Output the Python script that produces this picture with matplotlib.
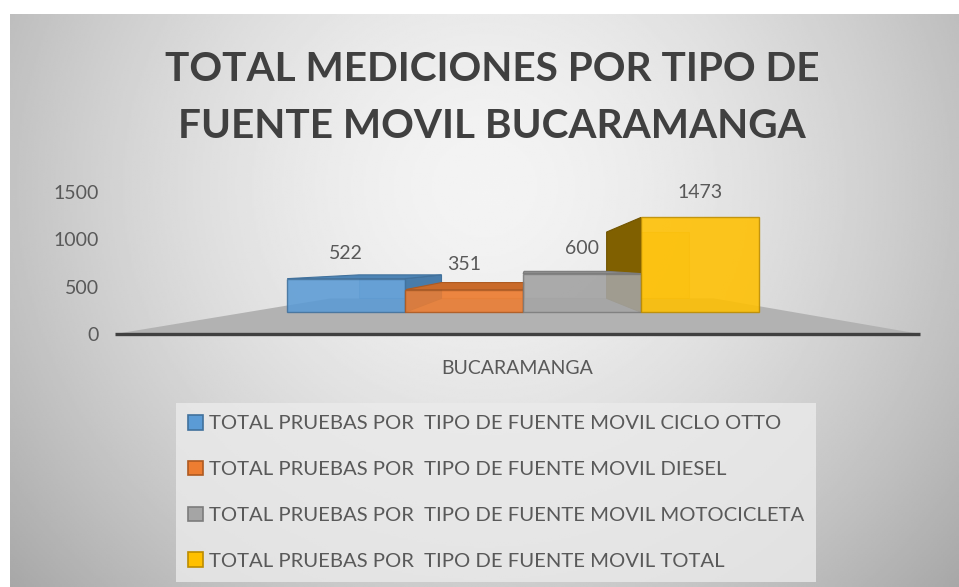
import numpy as np
import matplotlib.pyplot as plt
from matplotlib.patches import Polygon, Patch
from matplotlib.colors import to_rgb

plt.rcParams['font.family'] = ['Lato', 'DejaVu Sans']

title = "TOTAL MEDICIONES POR TIPO DE\nFUENTE MOVIL BUCARAMANGA"
category = "BUCARAMANGA"
series = ["TOTAL PRUEBAS POR  TIPO DE FUENTE MOVIL CICLO OTTO",
          "TOTAL PRUEBAS POR  TIPO DE FUENTE MOVIL DIESEL",
          "TOTAL PRUEBAS POR  TIPO DE FUENTE MOVIL MOTOCICLETA",
          "TOTAL PRUEBAS POR  TIPO DE FUENTE MOVIL TOTAL"]
values = [522, 351, 600, 1473]
colors = ['#5B9BD5', '#ED7D31', '#A5A5A5', '#FFC000']
edges = ['#41719C', '#AE5A21', '#7C7C7C', '#BC8C00']
yticks = [0, 500, 1000, 1500]

# fake excel-like 3d: one point perspective
vx, vy = 0.511, 718      # vanishing point (category units, value units)
s_front, s_back = 0.68, 0.476
group_w = 0.862


def proj(x, y, s):
    return (vx + (x - vx) * s, vy + (y - vy) * s)


def shade(c, f):
    r, g, b = to_rgb(c)
    return (r * f, g * f, b * f)


fig = plt.figure(figsize=(9.59, 5.87), dpi=100)
fig.patch.set_facecolor('white')

# radial gray background of the chart area
bg = fig.add_axes([10 / 959, 0, 949 / 959, 573 / 587], zorder=0)
yy, xx = np.mgrid[0:1:300j, 0:1:500j]
d = np.sqrt(((xx - 0.5) / 0.5) ** 2 + ((yy - 0.3) / 0.8) ** 2)
grad = 0.955 - 0.19 * d ** 1.6
bg.imshow(grad, cmap='gray', vmin=0, vmax=1, extent=(0, 1, 0, 1),
          aspect='auto', origin='upper')
bg.axis('off')

ax = fig.add_axes([115 / 959, (587 - 334) / 587, 805 / 959, 142 / 587], zorder=1)
ax.set_facecolor('none')
ax.set_xlim(0, 1)
ax.set_ylim(0, 1500)

# floor
floor = [proj(0, 0, 1), proj(1, 0, 1), proj(1, 0, s_back), proj(0, 0, s_back)]
ax.add_patch(Polygon(floor, closed=True, fc='#b2b2b2', ec='none', clip_on=False, zorder=1))
ax.plot([0, 1], [0, 0], color='#404040', lw=2.4, clip_on=False,
        solid_capstyle='butt', zorder=2)

w = group_w / len(values)
for i, (v, c, e) in enumerate(zip(values, colors, edges)):
    x0 = 0.505 - group_w / 2 + i * w
    x1 = x0 + w

    def box(s):
        return [proj(x0, 0, s), proj(x1, 0, s), proj(x1, v, s), proj(x0, v, s)]

    ax.add_patch(Polygon(box(s_back), fc=shade(c, 0.9), ec=e, lw=0.8, alpha=0.35,
                         clip_on=False, zorder=3))
    if x0 > vx:
        side = [proj(x0, 0, s_front), proj(x0, 0, s_back), proj(x0, v, s_back), proj(x0, v, s_front)]
        ax.add_patch(Polygon(side, fc=shade(c, 0.5), ec=shade(e, 0.6), lw=0.8,
                             clip_on=False, zorder=4))
    if x1 < vx:
        side = [proj(x1, 0, s_front), proj(x1, 0, s_back), proj(x1, v, s_back), proj(x1, v, s_front)]
        ax.add_patch(Polygon(side, fc=shade(c, 0.8), ec=e, lw=0.8,
                             clip_on=False, zorder=4))
    if v < vy:
        top = [proj(x0, v, s_front), proj(x1, v, s_front), proj(x1, v, s_back), proj(x0, v, s_back)]
        ax.add_patch(Polygon(top, fc=shade(c, 0.85), ec=e, lw=0.8,
                             clip_on=False, zorder=5))
    ax.add_patch(Polygon(box(s_front), fc=c, ec=e, lw=1.0, alpha=0.88,
                         clip_on=False, zorder=6))
    ax.annotate(str(v), xy=proj((x0 + x1) / 2, v, s_front), xytext=(0, 18),
                textcoords='offset points', ha='center', va='center',
                fontsize=14, color='#595959', zorder=7)

ax.annotate(category, xy=(0.5, 0), xytext=(0, -24.5), textcoords='offset points',
            ha='center', va='center', fontsize=14, color='#595959')

ax.set_yticks(yticks)
ax.set_xticks([])
ax.tick_params(axis='y', length=0, pad=11.5, labelsize=14, labelcolor='#595959')
for sp in ax.spines.values():
    sp.set_visible(False)

fig.text(492 / 959, 1 - 98 / 587, title, ha='center', va='center', fontsize=29.2,
         fontweight='bold', color='#404040', linespacing=1.64)

handles = [Patch(fc=c, ec=e, lw=1.2) for c, e in zip(colors, edges)]
leg = fig.legend(handles, series, loc='upper left', bbox_to_anchor=(176 / 959, 1 - 403 / 587),
                 frameon=True, fontsize=14.6, handlelength=0.72, handleheight=0.72,
                 handletextpad=0.3, labelspacing=1.4, borderpad=0.6, borderaxespad=0,
                 fancybox=False, labelcolor='#595959')
leg.get_frame().set_facecolor('#ebebeb')
leg.get_frame().set_edgecolor('none')

fig.savefig('out.png', dpi=100)
